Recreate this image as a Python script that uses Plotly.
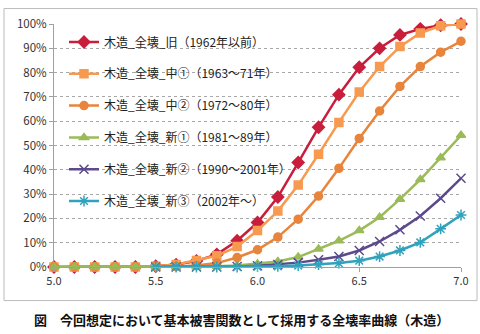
import plotly.graph_objects as go

x_all = [5.0, 5.1, 5.2, 5.3, 5.4, 5.5, 5.6, 5.7, 5.8, 5.9, 6.0,
         6.1, 6.2, 6.3, 6.4, 6.5, 6.6, 6.7, 6.8, 6.9, 7.0]
x_new = [5.5, 5.6, 5.7, 5.8, 5.9, 6.0, 6.1, 6.2, 6.3, 6.4, 6.5,
         6.6, 6.7, 6.8, 6.9, 7.0]

old = [0, 0, 0, 0, 0, 0.3, 1.0, 2.5, 5.2, 10.8, 18.3, 28.8, 43.0, 57.5, 70.9, 82.2, 90.0, 95.5, 98.0, 99.5, 100]
mid1 = [0, 0, 0, 0, 0, 0.3, 1.0, 2.7, 4.6, 8.4, 15.0, 23.0, 33.7, 46.4, 59.5, 72.0, 82.5, 90.7, 96.3, 99.3, 100]
mid2 = [0, 0, 0, 0, 0, 0.1, 0.2, 0.6, 1.6, 3.9, 7.1, 12.3, 19.7, 29.2, 40.6, 52.9, 64.2, 74.3, 82.5, 88.4, 92.9]
new1 = [0, 0, 0, 0, 0, 0, 0, 0.1, 0.3, 0.6, 1.3, 2.3, 4.1, 7.4, 10.8, 15.0, 20.5, 27.9, 36.0, 45.0, 54.2]
new2 = [0, 0, 0, 0, 0.2, 0.5, 1.0, 1.8, 3.0, 4.3, 6.8, 10.5, 15.3, 21.0, 28.3, 36.5]
new3 = [0, 0, 0, 0, 0, 0.15, 0.3, 0.6, 1.0, 1.6, 2.6, 4.3, 6.8, 10.1, 15.7, 21.4]

names = ["木造_全壊_旧（1962年以前）", "木造_全壊_中①（1963～71年）", "木造_全壊_中②（1972～80年）",
         "木造_全壊_新①（1981～89年）", "木造_全壊_新②（1990～2001年）", "木造_全壊_新③（2002年～）"]

x_ticks = [5.0, 5.5, 6.0, 6.5, 7.0]
x_tick_labels = ["5.0", "5.5", "6.0", "6.5", "7.0"]
y_ticks = [0, 10, 20, 30, 40, 50, 60, 70, 80, 90, 100]
y_tick_labels = ["0%", "10%", "20%", "30%", "40%", "50%", "60%", "70%", "80%", "90%", "100%"]

title_text = "図　今回想定において基本被害関数として採用する全壊率曲線（木造）"

FONT = "Noto Sans CJK JP"

series = [
    (x_all, old, "#C81E3C", "diamond", 9),
    (x_all, mid1, "#F79A50", "square", 8),
    (x_all, mid2, "#E8843C", "circle", 8),
    (x_all, new1, "#9BBB59", "triangle-up", 8),
    (x_new, new2, "#5C4A8C", "x-thin", 9),
    (x_new, new3, "#31A2BC", "asterisk", 9),
]

fig = go.Figure()
for i, (xs, ys, col, sym, sz) in enumerate(series):
    fig.add_trace(go.Scatter(
        x=xs, y=ys, name=names[i], mode="lines+markers",
        legendgroup=str(i),
        line=dict(color=col, width=2.5),
        marker=dict(symbol=sym, size=sz, color=col, line=dict(color=col, width=1.5)),
        cliponaxis=False,
    ))

L, T = 54, 23.5
W, H = 407, 243.8

def px(X):
    return (X - L) / W

def py(Y):
    return (T + H - Y) / H

fig.update_layout(
    width=480, height=334,
    margin=dict(l=L, r=480 - L - W, t=T, b=334 - T - H),
    paper_bgcolor="white", plot_bgcolor="white",
    font=dict(family=FONT, size=11, color="#333333"),
    showlegend=True,
    legend=dict(
        x=px(64), y=py(27), xanchor="left", yanchor="top",
        bgcolor="rgba(0,0,0,0)", font=dict(family=FONT, size=12, color="#222222"),
        tracegroupgap=12.8, itemwidth=30,
    ),
    xaxis=dict(
        range=[5.0, 7.0], tickvals=x_ticks, ticktext=x_tick_labels,
        showgrid=False, zeroline=False, showline=True, linecolor="#A0A0A0", linewidth=1,
        ticks="outside", ticklen=4, tickcolor="#A0A0A0",
        tickfont=dict(family=FONT, size=11, color="#333333"),
    ),
    yaxis=dict(
        range=[0, 100], tickvals=y_ticks, ticktext=y_tick_labels,
        showgrid=True, gridcolor="#A8A8A8", griddash="dot", gridwidth=1,
        zeroline=False, showline=True, linecolor="#A0A0A0", linewidth=1,
        ticks="outside", ticklen=4, tickcolor="#A0A0A0",
        tickfont=dict(family=FONT, size=11.5, color="#333333"),
    ),
    shapes=[dict(type="rect", xref="paper", yref="paper",
                 x0=px(4), x1=px(477), y0=py(301), y1=py(8),
                 line=dict(color="#BBBBBB", width=1), layer="below")],
    annotations=[dict(text="<b>" + title_text + "</b>", xref="paper", yref="paper",
                      x=px(241), y=py(320), xanchor="center", yanchor="middle",
                      showarrow=False, font=dict(family=FONT, size=13, color="#111111"))],
)

fig.write_html("out.html")
